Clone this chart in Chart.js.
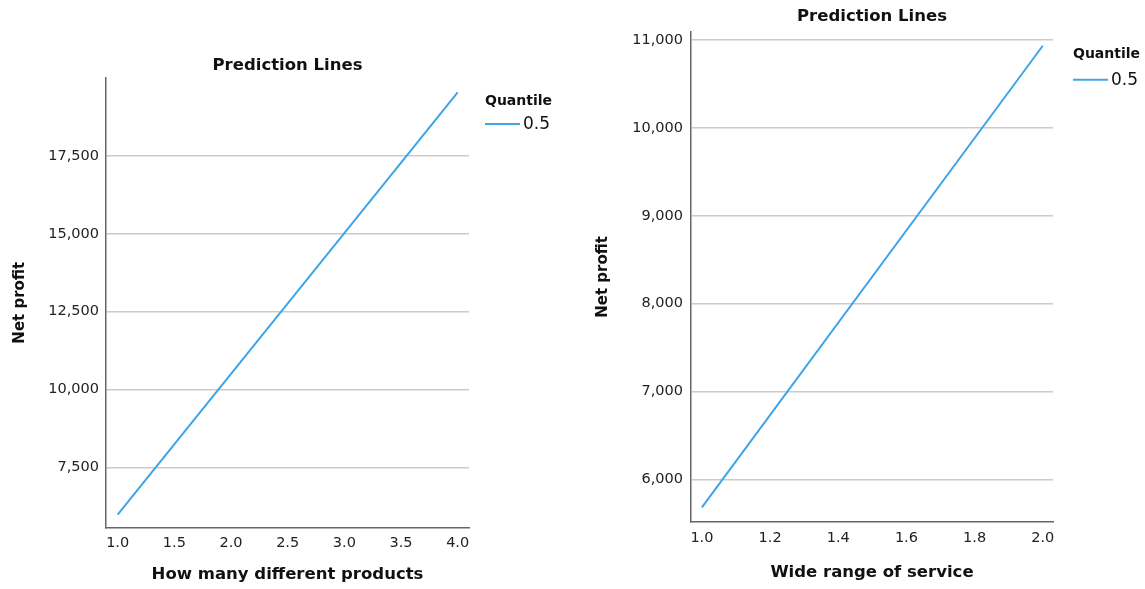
<!DOCTYPE html>
<html>
<head>
<meta charset="utf-8">
<script src="https://cdn.jsdelivr.net/npm/chart.js@4/dist/chart.umd.min.js"></script>
<style>
  html, body { margin: 0; padding: 0; background: #fff; }
  .wrap { position: absolute; top: 0; height: 589px; }
  #left { left: 0; width: 572px; }
  #right { left: 572px; width: 573px; }
</style>
</head>
<body>
<div class="wrap" id="left"><canvas id="leftChart" width="572" height="589"></canvas></div>
<div class="wrap" id="right"><canvas id="rightChart" width="573" height="589"></canvas></div>
<script>
// Left panel: products vs net profit
const leftX = [1.0, 4.0];
const leftY = [5980, 19540];
const leftXTicks = [1.0, 1.5, 2.0, 2.5, 3.0, 3.5, 4.0];
const leftYTicks = [7500, 10000, 12500, 15000, 17500];

// Right panel: service range vs net profit
const rightX = [1.0, 2.0];
const rightY = [5680, 10935];
const rightXTicks = [1.0, 1.2, 1.4, 1.6, 1.8, 2.0];
const rightYTicks = [6000, 7000, 8000, 9000, 10000, 11000];

const quantiles = ["0.5"];
const lineColor = "#3ea4e8";
const fontFamily = "'DejaVu Sans', sans-serif";

// small legend drawn to the right of the plot area
const quantileLegend = {
  id: "quantileLegend",
  afterDraw(chart, args, opts) {
    const { ctx, chartArea } = chart;
    const x = chartArea.right + opts.dx;
    const y = chartArea.top + opts.dy;
    ctx.save();
    ctx.fillStyle = "#111";
    ctx.textBaseline = "middle";
    ctx.textAlign = "left";
    ctx.font = "bold 14px " + fontFamily;
    ctx.fillText(opts.title, x, y);
    chart.data.datasets.forEach((ds, i) => {
      const ly = y + opts.gap + i * 22;
      ctx.strokeStyle = ds.borderColor;
      ctx.lineWidth = 2;
      ctx.beginPath();
      ctx.moveTo(x, ly);
      ctx.lineTo(x + 35, ly);
      ctx.stroke();
      ctx.font = "17px " + fontFamily;
      ctx.fillText(ds.label, x + 38, ly + 1);
    });
    ctx.restore();
  },
};

function makeChart(el, cfg) {
  const points = cfg.xs.map((x, i) => ({ x: x, y: cfg.ys[i] }));
  return new Chart(el, {
    type: "line",
    data: {
      datasets: [
        {
          label: quantiles[0],
          data: points,
          borderColor: lineColor,
          borderWidth: 2,
          pointRadius: 0,
          tension: 0,
        },
      ],
    },
    options: {
      responsive: false,
      animation: false,
      layout: { padding: { left: 0, right: cfg.padRight, top: 0, bottom: 0 } },
      plugins: {
        legend: { display: false },
        tooltip: { enabled: false },
        title: {
          display: true,
          text: "Prediction Lines",
          fullSize: false,
          color: "#111",
          font: { family: fontFamily, size: 16.5, weight: "bold" },
          padding: { top: cfg.titleTop, bottom: cfg.titleBottom },
        },
        quantileLegend: { title: "Quantile", dx: cfg.legendDx, dy: 23, gap: cfg.legendGap },
      },
      scales: {
        x: {
          type: "linear",
          min: cfg.xMin,
          max: cfg.xMax,
          afterBuildTicks: (s) => { s.ticks = cfg.xTicks.map((v) => ({ value: v })); },
          afterFit: (s) => { s.height = cfg.xAxisHeight; },
          ticks: {
            color: "#222",
            font: { family: fontFamily, size: 14.5 },
            padding: cfg.xTickPad,
            maxRotation: 0,
            autoSkip: false,
            callback: (v) => Number(v).toFixed(1),
          },
          grid: { display: false, drawTicks: false },
          border: { display: true, color: "#666", width: 1.5 },
          title: {
            display: true,
            text: cfg.xTitle,
            color: "#111",
            font: { family: fontFamily, size: 16.5, weight: "bold" },
            padding: { top: 0, bottom: cfg.xTitlePad },
          },
        },
        y: {
          type: "linear",
          min: cfg.yMin,
          max: cfg.yMax,
          afterBuildTicks: (s) => { s.ticks = cfg.yTicks.map((v) => ({ value: v })); },
          afterFit: (s) => { s.width = cfg.yAxisWidth; },
          ticks: {
            color: "#222",
            font: { family: fontFamily, size: 14.5 },
            padding: cfg.yTickPad,
            callback: (v) => Number(v).toLocaleString("en-US"),
          },
          grid: { color: "#cbcbcb", lineWidth: 1.5, drawTicks: false },
          border: { display: true, color: "#666", width: 1.5 },
          title: {
            display: true,
            text: "Net profit",
            color: "#111",
            font: { family: fontFamily, size: 15, weight: "bold" },
            padding: { top: cfg.yTitlePad, bottom: 0 },
          },
        },
      },
    },
    plugins: [quantileLegend],
  });
}

makeChart(document.getElementById("leftChart"), {
  xs: leftX, ys: leftY, xTicks: leftXTicks, yTicks: leftYTicks,
  xMin: 0.897, xMax: 4.1, yMin: 5570, yMax: 20000,
  xTitle: "How many different products",
  padRight: 103, titleTop: 56, titleBottom: 2.2,
  xAxisHeight: 61.5, yAxisWidth: 106, yTitlePad: 11,
  xTickPad: 7, yTickPad: 7, xTitlePad: 4,
  legendDx: 16, legendGap: 23,
});

makeChart(document.getElementById("rightChart"), {
  xs: rightX, ys: rightY, xTicks: rightXTicks, yTicks: rightYTicks,
  xMin: 0.968, xMax: 2.03, yMin: 5514, yMax: 11094,
  xTitle: "Wide range of service",
  padRight: 92, titleTop: 7, titleBottom: 5,
  xAxisHeight: 67, yAxisWidth: 119, yTitlePad: 22,
  xTickPad: 8, yTickPad: 8, xTitlePad: 6,
  legendDx: 20, legendGap: 25,
});
</script>
</body>
</html>
